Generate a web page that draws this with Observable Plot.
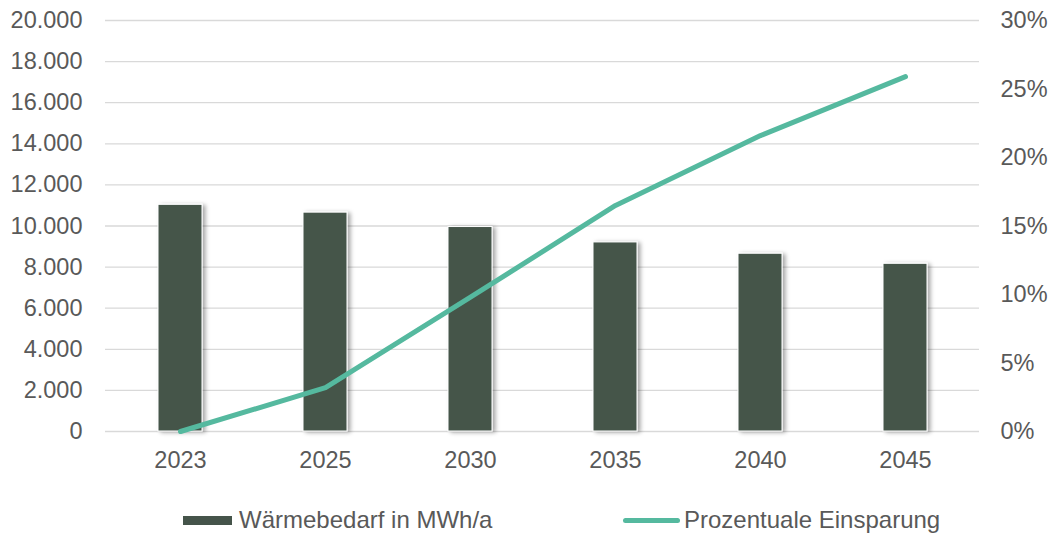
<!DOCTYPE html>
<html>
<head>
<meta charset="utf-8">
<script src="https://cdn.jsdelivr.net/npm/d3@7"></script>
<script src="https://cdn.jsdelivr.net/npm/@observablehq/plot@0.6"></script>
<style>
  html, body { margin: 0; padding: 0; background: #fff; }
  body { width: 1054px; height: 537px; overflow: hidden; font-family: "Liberation Sans", Arial, sans-serif; }
  #chart { position: relative; width: 1054px; height: 490px; }
  #legend { position: relative; width: 1054px; height: 47px; color: #595959; font-size: 24px; }
  .item { position: absolute; top: 16px; display: flex; align-items: center; white-space: nowrap; }
  .sw-bar { width: 49px; height: 9px; background: #45544a; margin-right: 7px; }
  .sw-line { width: 57px; height: 5px; border-radius: 3px; background: #55b99f; margin-right: 4px; }
</style>
</head>
<body>
<div id="chart"></div>
<div id="legend">
  <div class="item" style="left:183px"><div class="sw-bar"></div><span id="lg1"></span></div>
  <div class="item" style="left:623px"><div class="sw-line"></div><span id="lg2"></span></div>
</div>
<script>
const years = ["2023", "2025", "2030", "2035", "2040", "2045"];
const heatDemand = [11030, 10650, 9950, 9200, 8650, 8160];
const savingsPct = [0, 3.2, 9.8, 16.5, 21.6, 25.9];
const leftTicks = [0, 2000, 4000, 6000, 8000, 10000, 12000, 14000, 16000, 18000, 20000];
const rightTicks = [0, 5, 10, 15, 20, 25, 30];
const seriesNames = ["Wärmebedarf in MWh/a", "Prozentuale Einsparung"];

const leftMax = 20000, rightMax = 30;
const toLeft = p => p * leftMax / rightMax;

const rows = years.map((y, i) => ({year: y, demand: heatDemand[i], pct: savingsPct[i]}));

document.getElementById("lg1").textContent = seriesNames[0];
document.getElementById("lg2").textContent = seriesNames[1];

const fmtDE = v => d3.format(",")(v).replace(/,/g, ".");

const chart = Plot.plot({
  width: 1054,
  height: 490,
  marginLeft: 105,
  marginRight: 75,
  marginTop: 20,
  marginBottom: 59,
  style: {fontFamily: "Liberation Sans, Arial, sans-serif", fontSize: "23.5px", color: "#595959", background: "#fff"},
  x: {domain: years, paddingInner: 0.7, paddingOuter: 0.35, label: null},
  y: {domain: [0, leftMax], label: null},
  marks: [
    Plot.ruleY(leftTicks, {stroke: "#d9d9d9", strokeWidth: 1.3}),
    Plot.barY(rows, {x: "year", y: "demand", fill: "#45544a", stroke: "#ffffff", strokeWidth: 1, className: "bars"}),
    Plot.line(rows, {x: "year", y: d => toLeft(d.pct), stroke: "#55b99f", strokeWidth: 5, strokeLinecap: "round", strokeLinejoin: "round"}),
    Plot.axisX({tickSize: 0, tickPadding: 20, fontSize: 23.5, fill: "#595959", label: null}),
    Plot.axisY({ticks: leftTicks, tickSize: 0, tickPadding: 23, tickFormat: fmtDE, fontSize: 23.5, fill: "#595959", label: null}),
    Plot.axisY({anchor: "right", ticks: rightTicks.map(toLeft), tickSize: 0, tickPadding: 21, tickFormat: v => Math.round(v * rightMax / leftMax) + "%", fontSize: 23.5, fill: "#595959", label: null})
  ]
});

document.getElementById("chart").appendChild(chart);

// drop shadow on bars
const svg = d3.select(chart);
const defs = svg.insert("defs", ":first-child");
const f = defs.append("filter").attr("id", "barShadow").attr("x", "-20%").attr("y", "-20%").attr("width", "160%").attr("height", "140%");
f.append("feDropShadow").attr("dx", 3).attr("dy", 1).attr("stdDeviation", 2).attr("flood-color", "#000").attr("flood-opacity", 0.35);
svg.selectAll("g.bars").attr("filter", "url(#barShadow)");
</script>
</body>
</html>
